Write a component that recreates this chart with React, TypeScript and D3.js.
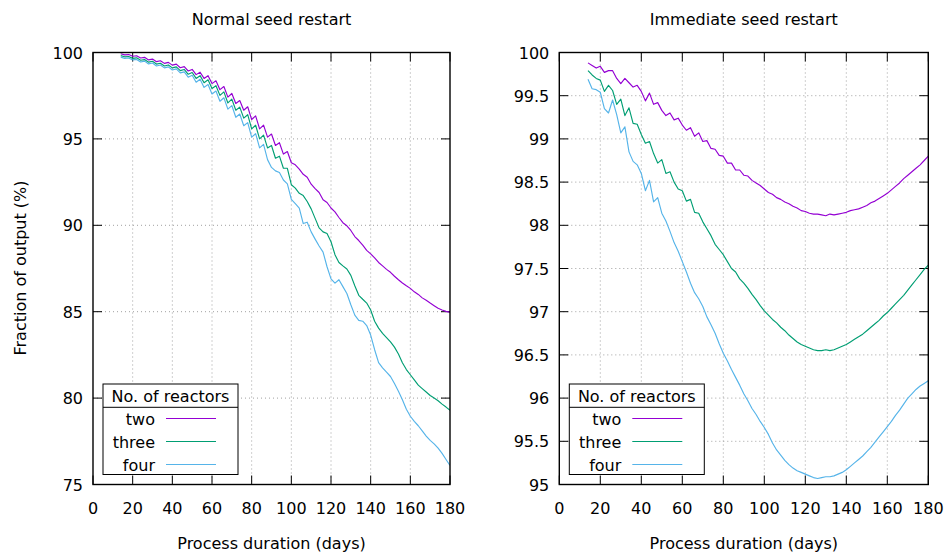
import React from "react";
import * as d3 from "d3";

const days = [
  14, 16, 18, 20, 22, 24, 26, 28, 30, 32,
  34, 36, 38, 40, 42, 44, 46, 48, 50, 52,
  54, 56, 58, 60, 62, 64, 66, 68, 70, 72,
  74, 76, 78, 80, 82, 84, 86, 88, 90, 92,
  94, 96, 98, 100, 102, 104, 106, 108, 110, 112,
  114, 116, 118, 120, 122, 124, 126, 128, 130, 132,
  134, 136, 138, 140, 142, 144, 146, 148, 150, 152,
  154, 156, 158, 160, 162, 164, 166, 168, 170, 172,
  174, 176, 178, 180,
];

const normalTwo = [
  99.93, 99.86, 99.88, 99.78, 99.81, 99.68, 99.72, 99.57, 99.62, 99.47,
  99.52, 99.37, 99.43, 99.27, 99.33, 99.12, 99.18, 98.93, 99.02, 98.72,
  98.86, 98.5, 98.66, 98.2, 98.36, 97.85, 98.03, 97.42, 97.63, 97.05,
  97.22, 96.66, 96.86, 96.12, 96.33, 95.58, 95.8, 95.1, 95.28, 94.62,
  94.78, 94.12, 94.27, 93.62, 93.5, 93.25, 92.95, 92.78, 92.38, 92.12,
  91.9, 91.48, 91.32, 91.0, 90.78, 90.45, 90.15, 89.97, 89.7, 89.35,
  89.12, 88.85, 88.55, 88.35, 88.12, 87.85, 87.65, 87.45, 87.28, 87.05,
  86.85, 86.66, 86.5, 86.35, 86.15, 86.0, 85.8, 85.66, 85.5, 85.35,
  85.2, 85.1, 85.02, 84.96,
];
const normalThree = [
  99.82, 99.75, 99.77, 99.66, 99.69, 99.55, 99.59, 99.44, 99.49, 99.33,
  99.38, 99.22, 99.28, 99.11, 99.17, 98.95, 99.02, 98.74, 98.84, 98.5,
  98.66, 98.25, 98.42, 97.92, 98.08, 97.52, 97.72, 97.08, 97.3, 96.66,
  96.84, 96.2, 96.4, 95.58, 95.79, 95.0, 95.22, 94.48, 94.62, 93.88,
  94.0, 93.3, 93.3, 92.35, 92.15, 91.85, 91.72, 91.38, 90.95, 90.4,
  89.85, 89.62, 89.52, 89.05, 88.3, 87.85, 87.65, 87.47, 87.1, 86.5,
  85.95, 85.72, 85.5, 85.1, 84.45, 84.05, 83.75, 83.5, 83.25, 82.95,
  82.55, 82.05, 81.65, 81.35, 81.05, 80.75, 80.55, 80.35, 80.15, 80.0,
  79.85, 79.65, 79.48, 79.3,
];
const normalFour = [
  99.73, 99.66, 99.68, 99.57, 99.6, 99.45, 99.5, 99.34, 99.39, 99.22,
  99.28, 99.11, 99.17, 98.99, 99.05, 98.82, 98.88, 98.57, 98.68, 98.28,
  98.45, 97.98, 98.15, 97.6, 97.77, 97.18, 97.38, 96.72, 96.93, 96.25,
  96.44, 95.76, 95.94, 95.1, 95.3, 94.48, 94.68, 93.8, 93.35, 93.15,
  93.05, 92.62, 92.4, 91.5, 91.25, 91.0, 90.1, 90.18, 89.62, 89.2,
  88.8, 88.45, 87.6, 86.9, 86.65, 86.85, 86.45, 86.05, 85.4, 84.8,
  84.5, 84.45, 84.2, 83.65, 82.8, 82.05, 81.75, 81.5, 81.25, 80.85,
  80.4, 79.9, 79.35, 78.95, 78.65, 78.4, 78.1, 77.8, 77.55, 77.35,
  77.1, 76.8, 76.45, 76.1,
];

const immediateTwo = [
  99.88, 99.85, 99.82, 99.84, 99.77, 99.79, 99.79, 99.7, 99.64, 99.7,
  99.65, 99.6, 99.62, 99.55, 99.44, 99.53, 99.4, 99.42, 99.33, 99.27,
  99.3, 99.22, 99.24, 99.16, 99.1, 99.13, 99.03, 99.07, 98.97, 98.98,
  98.89, 98.88, 98.81, 98.8, 98.72, 98.72, 98.64, 98.64, 98.58, 98.57,
  98.52, 98.49, 98.46, 98.42, 98.38, 98.36, 98.32, 98.3, 98.27, 98.25,
  98.22, 98.2, 98.17, 98.16, 98.14, 98.13, 98.13, 98.12, 98.11, 98.13,
  98.12, 98.13, 98.14, 98.15, 98.17, 98.18, 98.19, 98.21, 98.23, 98.26,
  98.28, 98.31, 98.34, 98.37, 98.41, 98.45, 98.49, 98.54, 98.58, 98.62,
  98.66, 98.7, 98.75, 98.8,
];
const immediateThree = [
  99.79, 99.74, 99.7, 99.68, 99.55, 99.62, 99.56, 99.4, 99.46, 99.27,
  99.36, 99.18, 99.17, 99.05, 98.95, 98.97, 98.83, 98.72, 98.76, 98.6,
  98.62, 98.5, 98.42, 98.4, 98.28, 98.3, 98.15, 98.14, 98.04, 97.96,
  97.88, 97.78, 97.72, 97.66, 97.58, 97.5, 97.46, 97.38, 97.33, 97.27,
  97.2, 97.14, 97.07, 97.01, 96.96, 96.91, 96.87, 96.82, 96.78, 96.73,
  96.69, 96.65, 96.62, 96.6, 96.58, 96.56, 96.55, 96.55, 96.56, 96.55,
  96.56, 96.58, 96.6, 96.62, 96.65, 96.68, 96.71, 96.74, 96.78, 96.82,
  96.86, 96.9, 96.95, 96.99, 97.04, 97.09, 97.14, 97.19, 97.25, 97.31,
  97.37, 97.43, 97.49, 97.54,
];
const immediateFour = [
  99.69, 99.58, 99.57, 99.54, 99.35, 99.3, 99.45, 99.28, 99.07, 99.14,
  98.85, 98.74, 98.7, 98.6, 98.4, 98.52, 98.27, 98.32, 98.14, 98.05,
  97.93, 97.8, 97.7, 97.58, 97.46, 97.33, 97.22, 97.15, 97.06, 96.94,
  96.85, 96.75, 96.63, 96.52, 96.43, 96.33, 96.24, 96.15, 96.05, 95.97,
  95.88, 95.81, 95.73, 95.66, 95.58, 95.48, 95.4, 95.34, 95.28, 95.23,
  95.19, 95.16, 95.14, 95.12, 95.1, 95.08, 95.07, 95.08, 95.09, 95.09,
  95.1, 95.12, 95.14, 95.17, 95.21, 95.25, 95.29, 95.33, 95.38, 95.43,
  95.49, 95.55, 95.61, 95.67, 95.73, 95.8, 95.86, 95.93, 96.0, 96.05,
  96.1, 96.14, 96.17, 96.2,
];

const xTicks = [0, 20, 40, 60, 80, 100, 120, 140, 160, 180];
const normalYTicks = [75, 80, 85, 90, 95, 100];
const immediateYTicks = [95, 95.5, 96, 96.5, 97, 97.5, 98, 98.5, 99, 99.5, 100];
const seriesNames = ["two", "three", "four"];
const seriesColors = ["#9400d3", "#009e73", "#56b4e9"];
const legendTitle = "No. of reactors";
const panelTitles = ["Normal seed restart", "Immediate seed restart"];
const xLabel = "Process duration (days)";
const yLabel = "Fraction of output (%)";

const FONT = "DejaVu Sans";
const FS = 16;

type PanelProps = {
  left: number;
  right: number;
  top: number;
  bottom: number;
  yDomain: [number, number];
  yTicks: number[];
  series: number[][];
  title: string;
  id: string;
};

function Panel({ left, right, top, bottom, yDomain, yTicks, series, title, id }: PanelProps) {
  const x = d3.scaleLinear().domain([0, 180]).range([left, right]);
  const y = d3.scaleLinear().domain(yDomain).range([bottom, top]);
  const line = d3
    .line<number>()
    .x((_, i) => x(days[i]))
    .y((v) => y(v));
  const tick = 9;
  const lgX = left + 10;
  const lgY = 384;
  const lgW = 135;
  const rowYs = [418.5, 441.5, 464.5];
  return (
    <g>
      <defs>
        <clipPath id={id}>
          <rect x={left} y={top} width={right - left} height={bottom - top} />
        </clipPath>
      </defs>
      {xTicks.slice(1, -1).map((t) => (
        <line key={"gx" + t} x1={x(t)} x2={x(t)} y1={top} y2={bottom} stroke="#a0a0a0" strokeWidth={1} strokeDasharray="1,3" />
      ))}
      {yTicks.slice(1, -1).map((t) => (
        <line key={"gy" + t} x1={left} x2={right} y1={y(t)} y2={y(t)} stroke="#a0a0a0" strokeWidth={1} strokeDasharray="1,3" />
      ))}
      {xTicks.map((t) => (
        <g key={"tx" + t}>
          <line x1={x(t)} x2={x(t)} y1={bottom} y2={bottom - tick} stroke="#000" strokeWidth={1} />
          <line x1={x(t)} x2={x(t)} y1={top} y2={top + tick} stroke="#000" strokeWidth={1} />
          <text x={x(t)} y={514} textAnchor="middle" fontFamily={FONT} fontSize={FS} fill="#000">
            {t}
          </text>
        </g>
      ))}
      {yTicks.map((t) => (
        <g key={"ty" + t}>
          <line x1={left} x2={left + tick} y1={y(t)} y2={y(t)} stroke="#000" strokeWidth={1} />
          <line x1={right} x2={right - tick} y1={y(t)} y2={y(t)} stroke="#000" strokeWidth={1} />
          <text x={left - 10} y={y(t) + 6} textAnchor="end" fontFamily={FONT} fontSize={FS} fill="#000">
            {String(t)}
          </text>
        </g>
      ))}
      <g clipPath={`url(#${id})`}>
        {series.map((s, i) => (
          <path key={i} d={line(s) || ""} fill="none" stroke={seriesColors[i]} strokeWidth={1.15} strokeLinejoin="round" />
        ))}
      </g>
      <rect x={left} y={top} width={right - left} height={bottom - top} fill="none" stroke="#000" strokeWidth={1.4} />
      <rect x={lgX} y={lgY} width={lgW} height={90.5} fill="#fff" stroke="#000" strokeWidth={1} />
      <line x1={lgX} x2={lgX + lgW} y1={lgY + 23.3} y2={lgY + 23.3} stroke="#000" strokeWidth={1} />
      <text x={lgX + lgW / 2} y={lgY + 18} textAnchor="middle" fontFamily={FONT} fontSize={FS} fill="#000">
        {legendTitle}
      </text>
      {seriesNames.map((n, i) => (
        <g key={n}>
          <text x={lgX + 52} y={rowYs[i] + 6} textAnchor="end" fontFamily={FONT} fontSize={FS} fill="#000">
            {n}
          </text>
          <line x1={lgX + 63} x2={lgX + 113} y1={rowYs[i]} y2={rowYs[i]} stroke={seriesColors[i]} strokeWidth={1.15} />
        </g>
      ))}
      <text x={(left + right) / 2} y={25} textAnchor="middle" fontFamily={FONT} fontSize={FS} fill="#000">
        {title}
      </text>
      <text x={(left + right) / 2} y={549} textAnchor="middle" fontFamily={FONT} fontSize={FS} fill="#000">
        {xLabel}
      </text>
    </g>
  );
}

export default function App() {
  return (
    <svg
      width={949}
      height={558}
      style={{ position: "absolute", left: 0, top: 0, background: "#fff" }}
    >
      <rect x={0} y={0} width={949} height={558} fill="#fff" />
      <Panel
        left={93}
        right={450}
        top={52.5}
        bottom={484.5}
        yDomain={[75, 100]}
        yTicks={normalYTicks}
        series={[normalTwo, normalThree, normalFour]}
        title={panelTitles[0]}
        id="clipL"
      />
      <Panel
        left={559.3}
        right={928.3}
        top={52.5}
        bottom={484.5}
        yDomain={[95, 100]}
        yTicks={immediateYTicks}
        series={[immediateTwo, immediateThree, immediateFour]}
        title={panelTitles[1]}
        id="clipR"
      />
      <text
        transform="translate(26,268) rotate(-90)"
        textAnchor="middle"
        fontFamily={FONT}
        fontSize={FS}
        fill="#000"
      >
        {yLabel}
      </text>
    </svg>
  );
}
